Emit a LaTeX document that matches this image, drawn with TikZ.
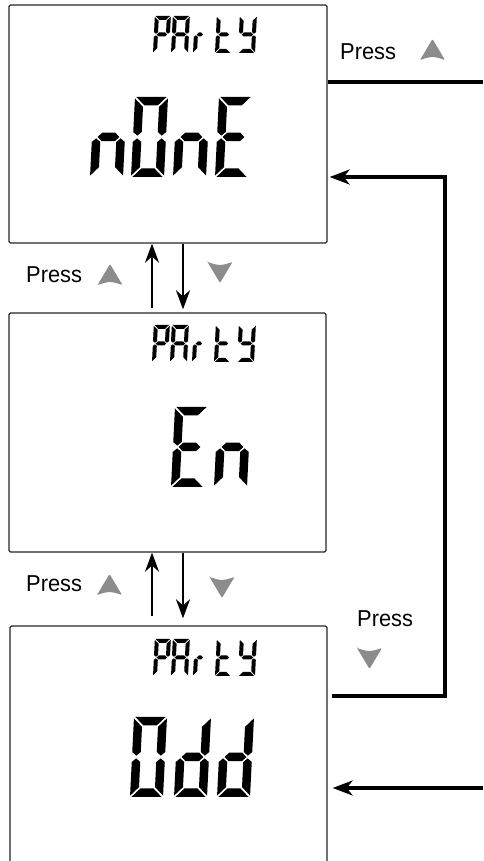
\documentclass[tikz,border=0pt]{standalone}
\usepackage{fontspec}
\newfontfamily\pressfont[FakeStretch=0.95]{Liberation Sans}
\usetikzlibrary{arrows.meta,calc}

% seven-segment glyph machinery
\newcommand\glyph[7]{%
  \begin{scope}[shift={(#1,#2)},xslant=0.05]
    \def\gW{#3}\def\gH{#4}\def\gT{#5}\def\gG{#6}%
    #7
  \end{scope}}
\newcommand\sgA{\fill (\gG,\gH) -- (\gW-\gG,\gH) -- (\gW-\gT-\gG,\gH-\gT) -- (\gT+\gG,\gH-\gT) -- cycle;}
\newcommand\sgD{\fill (\gG,0) -- (\gW-\gG,0) -- (\gW-\gT-\gG,\gT) -- (\gT+\gG,\gT) -- cycle;}
\newcommand\sgF{\fill (0,\gH-\gG) -- (\gT,\gH-\gT-\gG) -- (\gT,\gH/2+\gT/2+\gG/2) -- (\gT/2,\gH/2+\gG) -- (0,\gH/2+\gT/2+\gG/2) -- cycle;}
\newcommand\sgE{\fill (0,\gG) -- (\gT,\gT+\gG) -- (\gT,\gH/2-\gT/2-\gG/2) -- (\gT/2,\gH/2-\gG) -- (0,\gH/2-\gT/2-\gG/2) -- cycle;}
\newcommand\sgB{\fill (\gW,\gH-\gG) -- (\gW-\gT,\gH-\gT-\gG) -- (\gW-\gT,\gH/2+\gT/2+\gG/2) -- (\gW-\gT/2,\gH/2+\gG) -- (\gW,\gH/2+\gT/2+\gG/2) -- cycle;}
\newcommand\sgC{\fill (\gW,\gG) -- (\gW-\gT,\gT+\gG) -- (\gW-\gT,\gH/2-\gT/2-\gG/2) -- (\gW-\gT/2,\gH/2-\gG) -- (\gW,\gH/2-\gT/2-\gG/2) -- cycle;}
\newcommand\sgG{\fill (\gT/2+\gG,\gH/2) -- (\gT+\gG,\gH/2+\gT/2) -- (\gW-\gT-\gG,\gH/2+\gT/2) -- (\gW-\gT/2-\gG,\gH/2) -- (\gW-\gT-\gG,\gH/2-\gT/2) -- (\gT+\gG,\gH/2-\gT/2) -- cycle;}
\def\LtP{\sgA\sgB\sgF\sgG\sgE}
\def\LtA{\sgA\sgB\sgC\sgE\sgF\sgG}
\def\Ltr{\sgE\sgG}
\def\Ltt{\sgD\sgE\sgF\sgG}
\def\Lty{\sgB\sgC\sgD\sgF\sgG}
\def\Ltn{\sgC\sgE\sgG}
\def\LtO{\sgA\sgB\sgC\sgD\sgE\sgF}
\def\LtE{\sgA\sgD\sgE\sgF\sgG}
\def\Ltd{\sgB\sgC\sgD\sgE\sgG}

\newcommand\partyword[2]{%
  \glyph{#1}{#2}{16}{37}{4}{0.8}{\LtP}
  \glyph{#1+18}{#2}{17}{37}{4}{0.8}{\LtA}
  \glyph{#1+40}{#2}{12}{37}{4}{0.8}{\Ltr}
  \glyph{#1+62}{#2}{16}{37}{4}{0.8}{\Ltt}
  \glyph{#1+85}{#2}{17}{37}{4}{0.8}{\Lty}}
\newcommand\bigglyph[3]{\glyph{#1}{#2}{33}{80}{8.5}{1.4}{#3}}

\newcommand\uptri[2]{\fill[keycol] (#1-12.5,#2) -- (#1,#2+21) -- (#1+12.5,#2) .. controls (#1,#2+4) .. cycle;}
\newcommand\dntri[2]{\fill[keycol] (#1-12.5,#2) -- (#1,#2-21) -- (#1+12.5,#2) .. controls (#1,#2-4) .. cycle;}

\begin{document}
\begin{tikzpicture}[x=1pt,y=1pt,
  keycol/.style={fill=black!45,rounded corners=1pt},
  lcd/.style={draw=black!85,line width=1.3pt,rounded corners=1.5pt,inner sep=0pt},
  conn/.style={line width=3.2pt,line cap=butt},
  sarrow/.style={line width=2.5pt,-{Stealth[length=19pt,width=14pt,inset=6pt]}},
  loopar/.style={conn,-{Stealth[length=20pt,width=15pt,inset=6pt]}},
  presslbl/.style={font=\pressfont\fontsize{23}{27}\selectfont,inner sep=0pt,anchor=base west}]
\useasboundingbox (0,0) rectangle (483,861);

% displays
\node[lcd,minimum width=318pt,minimum height=238pt] (box1) at (168,737) {};
\node[lcd,minimum width=317pt,minimum height=239pt] (box2) at (167.5,428.5) {};
\node[lcd,minimum width=317pt,minimum height=250pt] (box3) at (168.5,110) {};

% display contents
\partyword{153}{808}
\bigglyph{90}{684}{\Ltn}
\bigglyph{131}{684}{\LtO}
\bigglyph{173}{684}{\Ltn}
\bigglyph{215}{684}{\LtE}

\partyword{152}{499}
\bigglyph{171}{374}{\LtE}
\bigglyph{214}{374}{\Ltn}

\partyword{153}{185}
\bigglyph{130}{64}{\LtO}
\bigglyph{174}{64}{\Ltd}
\bigglyph{217}{64}{\Ltd}

% labels
\node[presslbl] (p1) at (340,801) {Press};
\node[presslbl] (p2) at (26,578) {Press};
\node[presslbl] (p3) at (26,269) {Press};
\node[presslbl] (p4) at (357,234) {Press};
\uptri{432.5}{801}
\uptri{110}{576}
\dntri{220}{599}
\uptri{109.5}{266}
\dntri{222}{284}
\dntri{369.5}{213}

% connectors
\coordinate (ua) at (152,0);
\coordinate (da) at (183,0);
\draw[sarrow,shorten <=4pt] (box2.north -| ua) -- (box1.south -| ua);
\draw[sarrow,shorten >=3pt] (box1.south -| da) -- (box2.north -| da);
\draw[sarrow,shorten <=9pt] (box3.north -| ua) -- (box2.south -| ua);
\draw[sarrow,shorten >=7pt] (box2.south -| da) -- (box3.north -| da);

\coordinate (tr) at (483,779);
\draw[conn] (box1.east |- tr) -- (tr);
\coordinate (c1) at (445,165);
\coordinate (c2) at (445,684);
\draw[loopar,shorten <=4pt,shorten >=2pt] (box3.east |- c1) -- (c1) -- (c2) -- (box1.east |- c2);
\coordinate (br) at (483,73);
\draw[loopar,shorten >=5pt] (br) -- (box3.east |- br);
\end{tikzpicture}
\end{document}
